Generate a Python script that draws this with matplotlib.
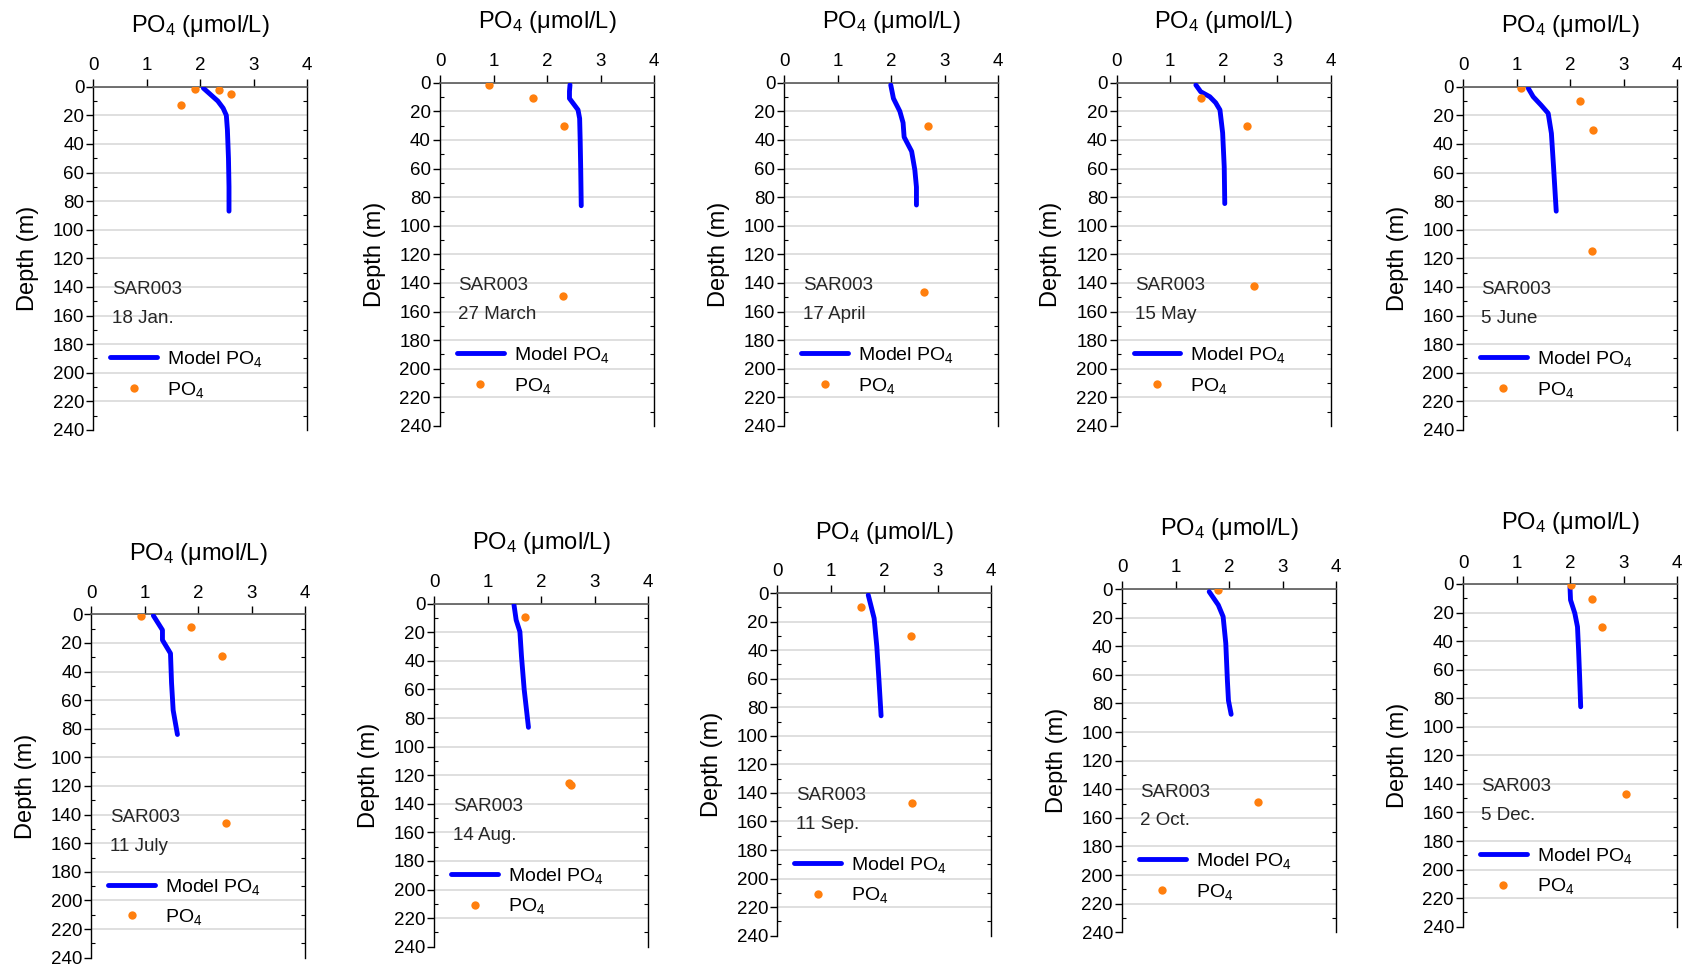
import numpy as np
import matplotlib
matplotlib.use('Agg')
import matplotlib.pyplot as plt

plt.rcParams['font.family'] = ['Liberation Sans', 'DejaVu Sans']
plt.rcParams['mathtext.default'] = 'regular'

# sampling dates at station SAR003
station = 'SAR003'
dates = ['18 Jan.', '27 March', '17 April', '15 May', '5 June',
         '11 July', '14 Aug.', '11 Sep.', '2 Oct.', '5 Dec.']

# model profiles (depth m, PO4 umol/L)
model_z = [
    [1, 5, 10, 15, 20, 30, 50, 70, 87],
    [1.5, 6, 11, 14, 19, 25, 40, 60, 86],
    [1.6, 11, 20, 28, 38, 48, 61, 73, 85.5],
    [1.6, 6.3, 9.8, 14, 19, 35, 59, 84.5],
    [1.2, 7, 13, 18.6, 32.6, 56, 87],
    [0.9, 11, 18, 27.3, 48, 67, 84],
    [0.9, 11.4, 19.6, 37, 60, 86.5],
    [1.4, 17.7, 37.5, 61, 86],
    [1.9, 11.2, 19.3, 38, 64, 78, 87.6],
    [2.3, 11.2, 20.5, 30, 46, 65, 86],
]
model_po4 = [
    [2.06, 2.18, 2.33, 2.43, 2.49, 2.51, 2.53, 2.54, 2.54],
    [2.43, 2.42, 2.42, 2.48, 2.58, 2.61, 2.62, 2.63, 2.64],
    [1.99, 2.04, 2.16, 2.22, 2.24, 2.38, 2.44, 2.47, 2.47],
    [1.48, 1.57, 1.74, 1.85, 1.93, 1.98, 2.01, 2.02],
    [1.22, 1.31, 1.46, 1.59, 1.65, 1.69, 1.74],
    [1.16, 1.33, 1.33, 1.48, 1.50, 1.53, 1.61],
    [1.49, 1.53, 1.60, 1.63, 1.68, 1.76],
    [1.70, 1.81, 1.86, 1.90, 1.94],
    [1.63, 1.80, 1.89, 1.94, 1.97, 1.99, 2.04],
    [2.00, 2.01, 2.09, 2.14, 2.16, 2.18, 2.20],
]

# observed PO4
obs_z = [
    [1.4, 2.3, 4.9, 12.6],
    [1.4, 10.7, 30.5, 149],
    [30.3, 146.4],
    [10.7, 30.5, 142.2],
    [0.7, 10.3, 30, 114.7],
    [0.9, 9.1, 28.9, 146.2],
    [9.6, 125.8, 127],
    [10, 30, 147],
    [0.9, 148.7],
    [0.9, 10.5, 30, 147],
]
obs_po4 = [
    [1.90, 2.35, 2.58, 1.64],
    [0.92, 1.74, 2.32, 2.29],
    [2.69, 2.62],
    [1.57, 2.43, 2.56],
    [1.08, 2.18, 2.42, 2.40],
    [0.93, 1.86, 2.44, 2.52],
    [1.69, 2.52, 2.55],
    [1.56, 2.50, 2.51],
    [1.80, 2.55],
    [2.01, 2.42, 2.60, 3.05],
]

W, H = 1685, 967
# axes boxes in pixels: left, right, top, bottom
boxes = [
    (93.3, 307, 86.7, 430), (440, 654, 82.7, 426), (784.3, 998.3, 82.7, 426),
    (1116.7, 1330.7, 82.7, 426), (1463, 1677.3, 86.7, 430),
    (91.3, 305.3, 614.3, 957.7), (434.3, 648.3, 603.7, 946.7),
    (777.3, 991.3, 593, 935.7), (1122, 1336, 589, 932.3), (1463, 1677, 584, 926.7),
]

fig = plt.figure(figsize=(W / 100, H / 100), dpi=100)

for i, (l, r, t, b) in enumerate(boxes):
    ax = fig.add_axes([l / W, 1 - b / H, (r - l) / W, (b - t) / H])
    ax.plot(model_po4[i], model_z[i], color='#0000ff', lw=3.5,
            solid_capstyle='round', label='Model PO$_4$', zorder=3)
    ax.plot(obs_po4[i], obs_z[i], 'o', color='#ff7f0e', ms=6, mec='none',
            label='PO$_4$', zorder=4)

    ax.set_xlim(0, 4)
    ax.set_ylim(240, 0)
    ax.xaxis.tick_top()
    ax.set_xticks(np.arange(0, 5, 1))
    ax.set_yticks(np.arange(0, 241, 20))
    ax.set_yticks(np.arange(10, 240, 20), minor=True)
    ax.tick_params(axis='x', which='major', direction='out', length=6,
                   width=1, labelsize=13.5, pad=3, colors='black')
    ax.tick_params(axis='y', which='major', direction='out', length=5,
                   width=1, labelsize=13.5, pad=1.5)
    ax.tick_params(axis='y', which='minor', direction='in', length=3,
                   width=0.8, left=True, right=True)

    ax.yaxis.grid(True, which='major', color='#d9d9d9', lw=1.2, zorder=0)
    ax.yaxis.get_major_ticks()[-1].gridline.set_visible(False)
    ax.set_axisbelow(True)

    ax.spines['bottom'].set_visible(False)
    ax.spines['top'].set_color('#595959')
    ax.spines['top'].set_linewidth(1.2)
    for s in ['left', 'right']:
        ax.spines[s].set_color('black')
        ax.spines[s].set_linewidth(1)

    ax.set_title('PO$_4$ (μmol/L)', fontsize=17, pad=18)
    ax.set_ylabel('Depth (m)', fontsize=17, labelpad=10)

    tr = ax.get_yaxis_transform()
    ax.text(0.086, 142, station, transform=tr, va='center', ha='left',
            fontsize=13.5, color='#262626')
    ax.text(0.086, 162, dates[i], transform=tr, va='center', ha='left',
            fontsize=13.5, color='#262626')

    ax.legend(loc='center left', bbox_to_anchor=(0.08, 1 - 201 / 240),
              frameon=False, fontsize=14, handlelength=2.4,
              handletextpad=0.5, labelspacing=0.55, borderpad=0,
              borderaxespad=0)

fig.savefig('out.png', dpi=100)
